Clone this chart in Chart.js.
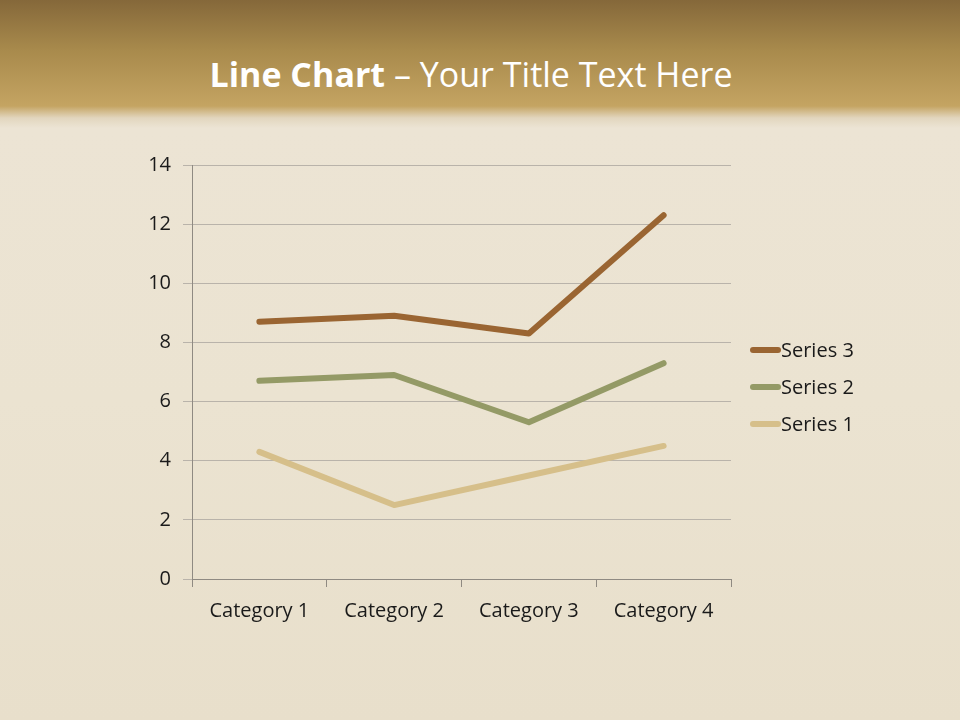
<!DOCTYPE html>
<html>
<head>
<meta charset="utf-8">
<script src="https://cdn.jsdelivr.net/npm/chart.js@4"></script>
<style>
  html, body { margin: 0; padding: 0; }
  body {
    width: 960px; height: 720px; overflow: hidden; position: relative;
    background: linear-gradient(180deg, #85683a 0px, #a88a4c 50px, #c4a462 106px, #e2d6be 118px, #ece4d4 128px, #ebe3d1 400px, #e8dfcb 720px);
    font-family: "Open Sans", Lato, sans-serif;
  }
  #title {
    position: absolute; left: -9px; top: 49px; width: 960px;
    text-align: center; color: #ffffff; font-size: 34px; line-height: 50px;
    font-family: "Open Sans", Lato, sans-serif;
  }
  #title b { font-weight: 700; }
  #wrap { position: absolute; left: 0; top: 0; width: 960px; height: 720px; }
</style>
</head>
<body>
<div id="title"><b>Line Chart</b> – Your Title Text Here</div>
<div id="wrap"><canvas id="lineChart"></canvas></div>
<script>
// categorias e valores (linhas empilhadas)
var categories = ["Category 1", "Category 2", "Category 3", "Category 4"];
var series1 = [4.3, 2.5, 3.5, 4.5];
var series2 = [2.4, 4.4, 1.8, 2.8];
var series3 = [2, 2, 3, 5];
var seriesNames = ["Series 1", "Series 2", "Series 3"];
var seriesColors = ["#d6bf8a", "#949a66", "#9a6532"];

var fontFamily = "'Open Sans', Lato, sans-serif";

// legenda desenhada à direita, ordem invertida
var sideLegend = {
  id: "sideLegend",
  afterDraw: function (chart) {
    var ctx = chart.ctx;
    var area = chart.chartArea;
    var sets = chart.data.datasets;
    ctx.save();
    ctx.font = "20px " + fontFamily;
    ctx.textBaseline = "middle";
    ctx.lineCap = "round";
    for (var i = sets.length - 1, row = 0; i >= 0; i--, row++) {
      var y = area.top + 185 + row * 37;
      ctx.strokeStyle = sets[i].borderColor;
      ctx.lineWidth = 6;
      ctx.beginPath();
      ctx.moveTo(area.right + 22, y);
      ctx.lineTo(area.right + 47, y);
      ctx.stroke();
      ctx.fillStyle = "#1a1a1a";
      ctx.fillText(sets[i].label, area.right + 50, y + 1);
    }
    ctx.restore();
  }
};

var ctx = document.getElementById("lineChart").getContext("2d");
var lineChart = new Chart(ctx, {
  type: "line",
  data: {
    labels: categories,
    datasets: [
      { label: seriesNames[0], data: series1, borderColor: seriesColors[0] },
      { label: seriesNames[1], data: series2, borderColor: seriesColors[1] },
      { label: seriesNames[2], data: series3, borderColor: seriesColors[2] }
    ]
  },
  options: {
    responsive: true,
    maintainAspectRatio: false,
    animation: false,
    layout: { padding: { top: 165, right: 229, left: 0, bottom: 0 } },
    elements: {
      line: { borderWidth: 6, tension: 0, borderCapStyle: "round", borderJoinStyle: "round", fill: false },
      point: { radius: 0, hoverRadius: 0 }
    },
    plugins: {
      legend: { display: false },
      tooltip: { enabled: false }
    },
    scales: {
      x: {
        offset: true,
        grid: { display: true, drawOnChartArea: false, drawTicks: true, offset: true, tickLength: 8, color: "#8f8a82" },
        border: { display: true, color: "#8f8a82", width: 1 },
        ticks: { color: "#1a1a1a", font: { size: 20, family: fontFamily }, padding: 12 },
        afterFit: function (scale) { scale.height = 141; }
      },
      y: {
        stacked: true,
        min: 0,
        max: 14,
        ticks: { stepSize: 2, color: "#1a1a1a", font: { size: 20, family: fontFamily }, padding: 12 },
        grid: { color: "#b9b3aa", tickLength: 9, lineWidth: 1 },
        border: { display: true, color: "#8f8a82", width: 1 },
        afterFit: function (scale) { scale.width = 192; }
      }
    }
  },
  plugins: [sideLegend]
});
</script>
</body>
</html>
